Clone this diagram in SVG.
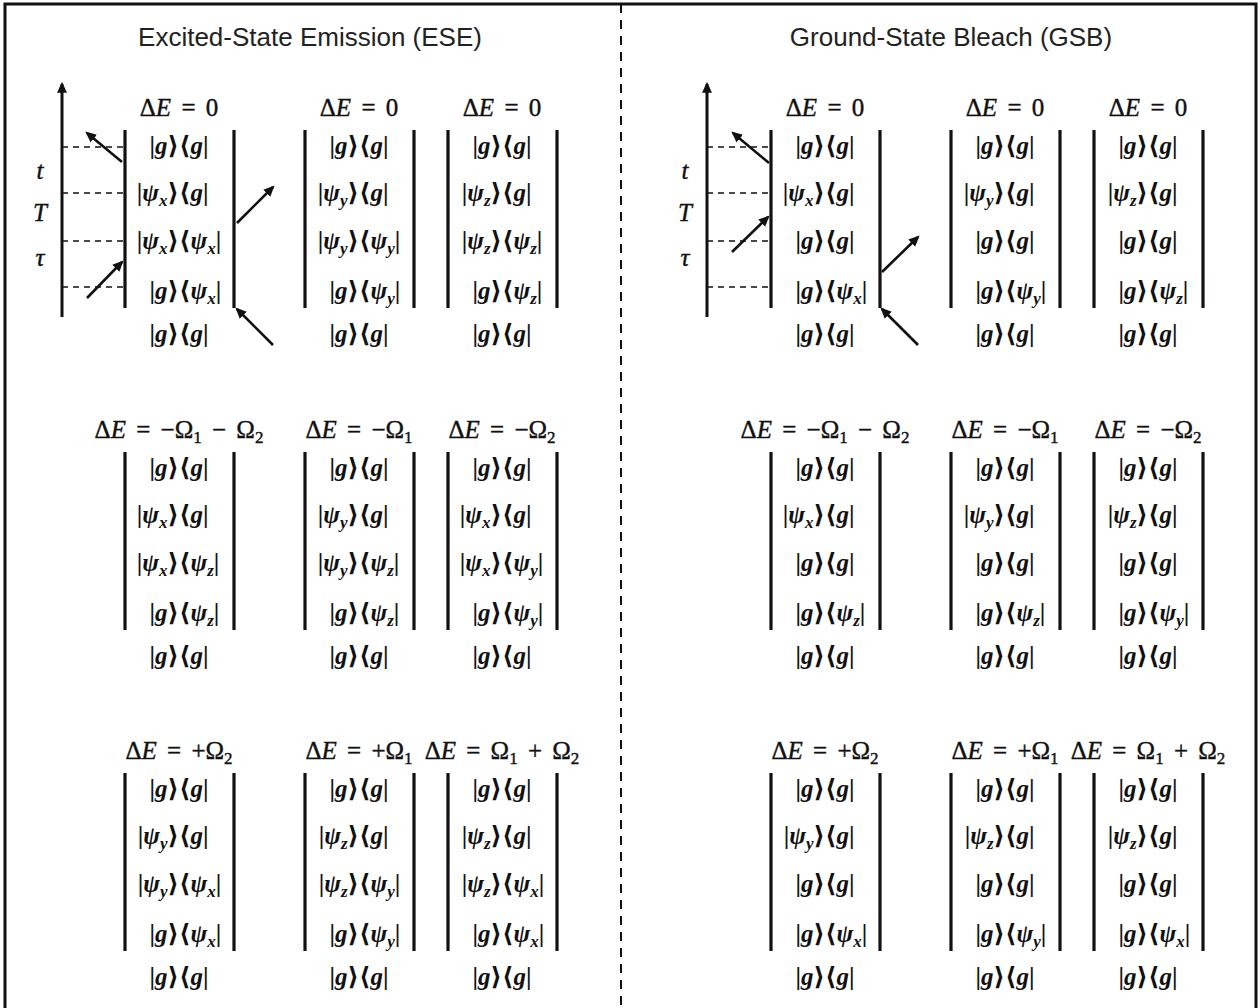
<svg xmlns="http://www.w3.org/2000/svg" width="1260" height="1008" viewBox="0 0 1260 1008">
<style>
.m{font-family:"Liberation Serif","DejaVu Serif","DejaVu Sans",serif;font-size:25px;fill:#111;font-weight:bold}
.hd{font-weight:normal;word-spacing:4px;stroke:#111;stroke-width:0.4}
.tl{font-weight:normal;stroke:#111;stroke-width:0.4}
.k{text-anchor:end}
.h{text-anchor:middle}
.i{font-style:italic}
.s{font-size:17px;font-style:italic}
.u{font-size:17px}
.ttl{font-family:"Liberation Sans",Arial,sans-serif;font-size:26px;fill:#222;text-anchor:middle}
.bar{stroke:#111;stroke-width:3.2;fill:none}
.ax{stroke:#111;stroke-width:3;fill:none}
.arr{stroke:#111;stroke-width:2.6;fill:none;marker-end:url(#ah)}
.dsh{stroke:#111;stroke-width:1.6;stroke-dasharray:6 5;fill:none}
</style>
<defs>
<marker id="ah" viewBox="0 0 10 10" refX="8" refY="5" markerWidth="11" markerHeight="11" markerUnits="userSpaceOnUse" orient="auto"><path d="M0,0.5 L10,5 L0,9.5 z" fill="#111"/></marker>
<g id="bars"><line class="bar" x1="-54" y1="0" x2="-54" y2="178"/><line class="bar" x1="55" y1="0" x2="55" y2="178"/></g>
</defs>
<rect width="1260" height="1008" fill="#fff"/>
<rect x="5" y="4" width="1251" height="1010" fill="none" stroke="#111" stroke-width="3"/>
<line x1="621" y1="4" x2="621" y2="1008" stroke="#111" stroke-width="2" stroke-dasharray="9 7"/>
<text class="ttl" x="310" y="46">Excited-State Emission (ESE)</text>
<text class="ttl" x="951" y="46">Ground-State Bleach (GSB)</text>

<g id="connectors">
<line class="ax" x1="62" y1="317" x2="62" y2="84" marker-end="url(#ah)"/>
<line class="ax" x1="707" y1="317" x2="707" y2="84" marker-end="url(#ah)"/>
<line class="dsh" x1="62" y1="147" x2="125" y2="147"/>
<line class="dsh" x1="62" y1="193" x2="125" y2="193"/>
<line class="dsh" x1="62" y1="241" x2="125" y2="241"/>
<line class="dsh" x1="62" y1="287" x2="125" y2="287"/>
<line class="dsh" x1="707" y1="147" x2="771" y2="147"/>
<line class="dsh" x1="707" y1="193" x2="771" y2="193"/>
<line class="dsh" x1="707" y1="241" x2="771" y2="241"/>
<line class="dsh" x1="707" y1="287" x2="771" y2="287"/>
<line class="arr" x1="122" y1="162" x2="87" y2="133"/>
<line class="arr" x1="87" y1="298" x2="122" y2="262"/>
<line class="arr" x1="237" y1="223" x2="273" y2="187"/>
<line class="arr" x1="273" y1="345" x2="237" y2="309"/>
<line class="arr" x1="769" y1="163" x2="733" y2="133"/>
<line class="arr" x1="732" y1="252" x2="768" y2="217"/>
<line class="arr" x1="882" y1="272" x2="918" y2="237"/>
<line class="arr" x1="918" y1="345" x2="882" y2="309"/>
</g>

<g id="time-labels">
<text class="m tl i h" x="40" y="179">t</text>
<text class="m tl i h" x="40" y="221">T</text>
<text class="m tl i h" x="40" y="266">τ</text>
<text class="m tl i h" x="685" y="179">t</text>
<text class="m tl i h" x="685" y="221">T</text>
<text class="m tl i h" x="685" y="266">τ</text>
</g>

<g id="ese-1" transform="translate(179,130)">
<use href="#bars"/>
<text class="m hd h" y="-14">Δ<tspan class="i">E</tspan> = 0</text>
<text class="m k" y="24">|<tspan class="i">g</tspan>⟩</text><text class="m" y="24">⟨<tspan class="i">g</tspan>|</text>
<text class="m k" y="71">|<tspan class="i">ψ</tspan><tspan class="s" dy="5">x</tspan><tspan dy="-5">⟩</tspan></text><text class="m" y="71">⟨<tspan class="i">g</tspan>|</text>
<text class="m k" y="119">|<tspan class="i">ψ</tspan><tspan class="s" dy="5">x</tspan><tspan dy="-5">⟩</tspan></text><text class="m" y="119">⟨<tspan class="i">ψ</tspan><tspan class="s" dy="5">x</tspan><tspan dy="-5">|</tspan></text>
<text class="m k" y="169">|<tspan class="i">g</tspan>⟩</text><text class="m" y="169">⟨<tspan class="i">ψ</tspan><tspan class="s" dy="5">x</tspan><tspan dy="-5">|</tspan></text>
<text class="m k" y="212">|<tspan class="i">g</tspan>⟩</text><text class="m" y="212">⟨<tspan class="i">g</tspan>|</text>
</g>
<g id="ese-2" transform="translate(359,130)">
<use href="#bars"/>
<text class="m hd h" y="-14">Δ<tspan class="i">E</tspan> = 0</text>
<text class="m k" y="24">|<tspan class="i">g</tspan>⟩</text><text class="m" y="24">⟨<tspan class="i">g</tspan>|</text>
<text class="m k" y="71">|<tspan class="i">ψ</tspan><tspan class="s" dy="5">y</tspan><tspan dy="-5">⟩</tspan></text><text class="m" y="71">⟨<tspan class="i">g</tspan>|</text>
<text class="m k" y="119">|<tspan class="i">ψ</tspan><tspan class="s" dy="5">y</tspan><tspan dy="-5">⟩</tspan></text><text class="m" y="119">⟨<tspan class="i">ψ</tspan><tspan class="s" dy="5">y</tspan><tspan dy="-5">|</tspan></text>
<text class="m k" y="169">|<tspan class="i">g</tspan>⟩</text><text class="m" y="169">⟨<tspan class="i">ψ</tspan><tspan class="s" dy="5">y</tspan><tspan dy="-5">|</tspan></text>
<text class="m k" y="212">|<tspan class="i">g</tspan>⟩</text><text class="m" y="212">⟨<tspan class="i">g</tspan>|</text>
</g>
<g id="ese-3" transform="translate(502,130)">
<use href="#bars"/>
<text class="m hd h" y="-14">Δ<tspan class="i">E</tspan> = 0</text>
<text class="m k" y="24">|<tspan class="i">g</tspan>⟩</text><text class="m" y="24">⟨<tspan class="i">g</tspan>|</text>
<text class="m k" y="71">|<tspan class="i">ψ</tspan><tspan class="s" dy="5">z</tspan><tspan dy="-5">⟩</tspan></text><text class="m" y="71">⟨<tspan class="i">g</tspan>|</text>
<text class="m k" y="119">|<tspan class="i">ψ</tspan><tspan class="s" dy="5">z</tspan><tspan dy="-5">⟩</tspan></text><text class="m" y="119">⟨<tspan class="i">ψ</tspan><tspan class="s" dy="5">z</tspan><tspan dy="-5">|</tspan></text>
<text class="m k" y="169">|<tspan class="i">g</tspan>⟩</text><text class="m" y="169">⟨<tspan class="i">ψ</tspan><tspan class="s" dy="5">z</tspan><tspan dy="-5">|</tspan></text>
<text class="m k" y="212">|<tspan class="i">g</tspan>⟩</text><text class="m" y="212">⟨<tspan class="i">g</tspan>|</text>
</g>
<g id="ese-4" transform="translate(179,452)">
<use href="#bars"/>
<text class="m hd h" y="-14">Δ<tspan class="i">E</tspan> = −Ω<tspan class="u" dy="5">1</tspan><tspan dy="-5"> − Ω</tspan><tspan class="u" dy="5">2</tspan></text>
<text class="m k" y="24">|<tspan class="i">g</tspan>⟩</text><text class="m" y="24">⟨<tspan class="i">g</tspan>|</text>
<text class="m k" y="71">|<tspan class="i">ψ</tspan><tspan class="s" dy="5">x</tspan><tspan dy="-5">⟩</tspan></text><text class="m" y="71">⟨<tspan class="i">g</tspan>|</text>
<text class="m k" y="119">|<tspan class="i">ψ</tspan><tspan class="s" dy="5">x</tspan><tspan dy="-5">⟩</tspan></text><text class="m" y="119">⟨<tspan class="i">ψ</tspan><tspan class="s" dy="5">z</tspan><tspan dy="-5">|</tspan></text>
<text class="m k" y="169">|<tspan class="i">g</tspan>⟩</text><text class="m" y="169">⟨<tspan class="i">ψ</tspan><tspan class="s" dy="5">z</tspan><tspan dy="-5">|</tspan></text>
<text class="m k" y="212">|<tspan class="i">g</tspan>⟩</text><text class="m" y="212">⟨<tspan class="i">g</tspan>|</text>
</g>
<g id="ese-5" transform="translate(359,452)">
<use href="#bars"/>
<text class="m hd h" y="-14">Δ<tspan class="i">E</tspan> = −Ω<tspan class="u" dy="5">1</tspan></text>
<text class="m k" y="24">|<tspan class="i">g</tspan>⟩</text><text class="m" y="24">⟨<tspan class="i">g</tspan>|</text>
<text class="m k" y="71">|<tspan class="i">ψ</tspan><tspan class="s" dy="5">y</tspan><tspan dy="-5">⟩</tspan></text><text class="m" y="71">⟨<tspan class="i">g</tspan>|</text>
<text class="m k" y="119">|<tspan class="i">ψ</tspan><tspan class="s" dy="5">y</tspan><tspan dy="-5">⟩</tspan></text><text class="m" y="119">⟨<tspan class="i">ψ</tspan><tspan class="s" dy="5">z</tspan><tspan dy="-5">|</tspan></text>
<text class="m k" y="169">|<tspan class="i">g</tspan>⟩</text><text class="m" y="169">⟨<tspan class="i">ψ</tspan><tspan class="s" dy="5">z</tspan><tspan dy="-5">|</tspan></text>
<text class="m k" y="212">|<tspan class="i">g</tspan>⟩</text><text class="m" y="212">⟨<tspan class="i">g</tspan>|</text>
</g>
<g id="ese-6" transform="translate(502,452)">
<use href="#bars"/>
<text class="m hd h" y="-14">Δ<tspan class="i">E</tspan> = −Ω<tspan class="u" dy="5">2</tspan></text>
<text class="m k" y="24">|<tspan class="i">g</tspan>⟩</text><text class="m" y="24">⟨<tspan class="i">g</tspan>|</text>
<text class="m k" y="71">|<tspan class="i">ψ</tspan><tspan class="s" dy="5">x</tspan><tspan dy="-5">⟩</tspan></text><text class="m" y="71">⟨<tspan class="i">g</tspan>|</text>
<text class="m k" y="119">|<tspan class="i">ψ</tspan><tspan class="s" dy="5">x</tspan><tspan dy="-5">⟩</tspan></text><text class="m" y="119">⟨<tspan class="i">ψ</tspan><tspan class="s" dy="5">y</tspan><tspan dy="-5">|</tspan></text>
<text class="m k" y="169">|<tspan class="i">g</tspan>⟩</text><text class="m" y="169">⟨<tspan class="i">ψ</tspan><tspan class="s" dy="5">y</tspan><tspan dy="-5">|</tspan></text>
<text class="m k" y="212">|<tspan class="i">g</tspan>⟩</text><text class="m" y="212">⟨<tspan class="i">g</tspan>|</text>
</g>
<g id="ese-7" transform="translate(179,773)">
<use href="#bars"/>
<text class="m hd h" y="-14">Δ<tspan class="i">E</tspan> = +Ω<tspan class="u" dy="5">2</tspan></text>
<text class="m k" y="24">|<tspan class="i">g</tspan>⟩</text><text class="m" y="24">⟨<tspan class="i">g</tspan>|</text>
<text class="m k" y="71">|<tspan class="i">ψ</tspan><tspan class="s" dy="5">y</tspan><tspan dy="-5">⟩</tspan></text><text class="m" y="71">⟨<tspan class="i">g</tspan>|</text>
<text class="m k" y="119">|<tspan class="i">ψ</tspan><tspan class="s" dy="5">y</tspan><tspan dy="-5">⟩</tspan></text><text class="m" y="119">⟨<tspan class="i">ψ</tspan><tspan class="s" dy="5">x</tspan><tspan dy="-5">|</tspan></text>
<text class="m k" y="169">|<tspan class="i">g</tspan>⟩</text><text class="m" y="169">⟨<tspan class="i">ψ</tspan><tspan class="s" dy="5">x</tspan><tspan dy="-5">|</tspan></text>
<text class="m k" y="212">|<tspan class="i">g</tspan>⟩</text><text class="m" y="212">⟨<tspan class="i">g</tspan>|</text>
</g>
<g id="ese-8" transform="translate(359,773)">
<use href="#bars"/>
<text class="m hd h" y="-14">Δ<tspan class="i">E</tspan> = +Ω<tspan class="u" dy="5">1</tspan></text>
<text class="m k" y="24">|<tspan class="i">g</tspan>⟩</text><text class="m" y="24">⟨<tspan class="i">g</tspan>|</text>
<text class="m k" y="71">|<tspan class="i">ψ</tspan><tspan class="s" dy="5">z</tspan><tspan dy="-5">⟩</tspan></text><text class="m" y="71">⟨<tspan class="i">g</tspan>|</text>
<text class="m k" y="119">|<tspan class="i">ψ</tspan><tspan class="s" dy="5">z</tspan><tspan dy="-5">⟩</tspan></text><text class="m" y="119">⟨<tspan class="i">ψ</tspan><tspan class="s" dy="5">y</tspan><tspan dy="-5">|</tspan></text>
<text class="m k" y="169">|<tspan class="i">g</tspan>⟩</text><text class="m" y="169">⟨<tspan class="i">ψ</tspan><tspan class="s" dy="5">y</tspan><tspan dy="-5">|</tspan></text>
<text class="m k" y="212">|<tspan class="i">g</tspan>⟩</text><text class="m" y="212">⟨<tspan class="i">g</tspan>|</text>
</g>
<g id="ese-9" transform="translate(502,773)">
<use href="#bars"/>
<text class="m hd h" y="-14">Δ<tspan class="i">E</tspan> = Ω<tspan class="u" dy="5">1</tspan><tspan dy="-5"> + Ω</tspan><tspan class="u" dy="5">2</tspan></text>
<text class="m k" y="24">|<tspan class="i">g</tspan>⟩</text><text class="m" y="24">⟨<tspan class="i">g</tspan>|</text>
<text class="m k" y="71">|<tspan class="i">ψ</tspan><tspan class="s" dy="5">z</tspan><tspan dy="-5">⟩</tspan></text><text class="m" y="71">⟨<tspan class="i">g</tspan>|</text>
<text class="m k" y="119">|<tspan class="i">ψ</tspan><tspan class="s" dy="5">z</tspan><tspan dy="-5">⟩</tspan></text><text class="m" y="119">⟨<tspan class="i">ψ</tspan><tspan class="s" dy="5">x</tspan><tspan dy="-5">|</tspan></text>
<text class="m k" y="169">|<tspan class="i">g</tspan>⟩</text><text class="m" y="169">⟨<tspan class="i">ψ</tspan><tspan class="s" dy="5">x</tspan><tspan dy="-5">|</tspan></text>
<text class="m k" y="212">|<tspan class="i">g</tspan>⟩</text><text class="m" y="212">⟨<tspan class="i">g</tspan>|</text>
</g>

<g id="gsb-1" transform="translate(825,130)">
<use href="#bars"/>
<text class="m hd h" y="-14">Δ<tspan class="i">E</tspan> = 0</text>
<text class="m k" y="24">|<tspan class="i">g</tspan>⟩</text><text class="m" y="24">⟨<tspan class="i">g</tspan>|</text>
<text class="m k" y="71">|<tspan class="i">ψ</tspan><tspan class="s" dy="5">x</tspan><tspan dy="-5">⟩</tspan></text><text class="m" y="71">⟨<tspan class="i">g</tspan>|</text>
<text class="m k" y="119">|<tspan class="i">g</tspan>⟩</text><text class="m" y="119">⟨<tspan class="i">g</tspan>|</text>
<text class="m k" y="169">|<tspan class="i">g</tspan>⟩</text><text class="m" y="169">⟨<tspan class="i">ψ</tspan><tspan class="s" dy="5">x</tspan><tspan dy="-5">|</tspan></text>
<text class="m k" y="212">|<tspan class="i">g</tspan>⟩</text><text class="m" y="212">⟨<tspan class="i">g</tspan>|</text>
</g>
<g id="gsb-2" transform="translate(1005,130)">
<use href="#bars"/>
<text class="m hd h" y="-14">Δ<tspan class="i">E</tspan> = 0</text>
<text class="m k" y="24">|<tspan class="i">g</tspan>⟩</text><text class="m" y="24">⟨<tspan class="i">g</tspan>|</text>
<text class="m k" y="71">|<tspan class="i">ψ</tspan><tspan class="s" dy="5">y</tspan><tspan dy="-5">⟩</tspan></text><text class="m" y="71">⟨<tspan class="i">g</tspan>|</text>
<text class="m k" y="119">|<tspan class="i">g</tspan>⟩</text><text class="m" y="119">⟨<tspan class="i">g</tspan>|</text>
<text class="m k" y="169">|<tspan class="i">g</tspan>⟩</text><text class="m" y="169">⟨<tspan class="i">ψ</tspan><tspan class="s" dy="5">y</tspan><tspan dy="-5">|</tspan></text>
<text class="m k" y="212">|<tspan class="i">g</tspan>⟩</text><text class="m" y="212">⟨<tspan class="i">g</tspan>|</text>
</g>
<g id="gsb-3" transform="translate(1148,130)">
<use href="#bars"/>
<text class="m hd h" y="-14">Δ<tspan class="i">E</tspan> = 0</text>
<text class="m k" y="24">|<tspan class="i">g</tspan>⟩</text><text class="m" y="24">⟨<tspan class="i">g</tspan>|</text>
<text class="m k" y="71">|<tspan class="i">ψ</tspan><tspan class="s" dy="5">z</tspan><tspan dy="-5">⟩</tspan></text><text class="m" y="71">⟨<tspan class="i">g</tspan>|</text>
<text class="m k" y="119">|<tspan class="i">g</tspan>⟩</text><text class="m" y="119">⟨<tspan class="i">g</tspan>|</text>
<text class="m k" y="169">|<tspan class="i">g</tspan>⟩</text><text class="m" y="169">⟨<tspan class="i">ψ</tspan><tspan class="s" dy="5">z</tspan><tspan dy="-5">|</tspan></text>
<text class="m k" y="212">|<tspan class="i">g</tspan>⟩</text><text class="m" y="212">⟨<tspan class="i">g</tspan>|</text>
</g>
<g id="gsb-4" transform="translate(825,452)">
<use href="#bars"/>
<text class="m hd h" y="-14">Δ<tspan class="i">E</tspan> = −Ω<tspan class="u" dy="5">1</tspan><tspan dy="-5"> − Ω</tspan><tspan class="u" dy="5">2</tspan></text>
<text class="m k" y="24">|<tspan class="i">g</tspan>⟩</text><text class="m" y="24">⟨<tspan class="i">g</tspan>|</text>
<text class="m k" y="71">|<tspan class="i">ψ</tspan><tspan class="s" dy="5">x</tspan><tspan dy="-5">⟩</tspan></text><text class="m" y="71">⟨<tspan class="i">g</tspan>|</text>
<text class="m k" y="119">|<tspan class="i">g</tspan>⟩</text><text class="m" y="119">⟨<tspan class="i">g</tspan>|</text>
<text class="m k" y="169">|<tspan class="i">g</tspan>⟩</text><text class="m" y="169">⟨<tspan class="i">ψ</tspan><tspan class="s" dy="5">z</tspan><tspan dy="-5">|</tspan></text>
<text class="m k" y="212">|<tspan class="i">g</tspan>⟩</text><text class="m" y="212">⟨<tspan class="i">g</tspan>|</text>
</g>
<g id="gsb-5" transform="translate(1005,452)">
<use href="#bars"/>
<text class="m hd h" y="-14">Δ<tspan class="i">E</tspan> = −Ω<tspan class="u" dy="5">1</tspan></text>
<text class="m k" y="24">|<tspan class="i">g</tspan>⟩</text><text class="m" y="24">⟨<tspan class="i">g</tspan>|</text>
<text class="m k" y="71">|<tspan class="i">ψ</tspan><tspan class="s" dy="5">y</tspan><tspan dy="-5">⟩</tspan></text><text class="m" y="71">⟨<tspan class="i">g</tspan>|</text>
<text class="m k" y="119">|<tspan class="i">g</tspan>⟩</text><text class="m" y="119">⟨<tspan class="i">g</tspan>|</text>
<text class="m k" y="169">|<tspan class="i">g</tspan>⟩</text><text class="m" y="169">⟨<tspan class="i">ψ</tspan><tspan class="s" dy="5">z</tspan><tspan dy="-5">|</tspan></text>
<text class="m k" y="212">|<tspan class="i">g</tspan>⟩</text><text class="m" y="212">⟨<tspan class="i">g</tspan>|</text>
</g>
<g id="gsb-6" transform="translate(1148,452)">
<use href="#bars"/>
<text class="m hd h" y="-14">Δ<tspan class="i">E</tspan> = −Ω<tspan class="u" dy="5">2</tspan></text>
<text class="m k" y="24">|<tspan class="i">g</tspan>⟩</text><text class="m" y="24">⟨<tspan class="i">g</tspan>|</text>
<text class="m k" y="71">|<tspan class="i">ψ</tspan><tspan class="s" dy="5">z</tspan><tspan dy="-5">⟩</tspan></text><text class="m" y="71">⟨<tspan class="i">g</tspan>|</text>
<text class="m k" y="119">|<tspan class="i">g</tspan>⟩</text><text class="m" y="119">⟨<tspan class="i">g</tspan>|</text>
<text class="m k" y="169">|<tspan class="i">g</tspan>⟩</text><text class="m" y="169">⟨<tspan class="i">ψ</tspan><tspan class="s" dy="5">y</tspan><tspan dy="-5">|</tspan></text>
<text class="m k" y="212">|<tspan class="i">g</tspan>⟩</text><text class="m" y="212">⟨<tspan class="i">g</tspan>|</text>
</g>
<g id="gsb-7" transform="translate(825,773)">
<use href="#bars"/>
<text class="m hd h" y="-14">Δ<tspan class="i">E</tspan> = +Ω<tspan class="u" dy="5">2</tspan></text>
<text class="m k" y="24">|<tspan class="i">g</tspan>⟩</text><text class="m" y="24">⟨<tspan class="i">g</tspan>|</text>
<text class="m k" y="71">|<tspan class="i">ψ</tspan><tspan class="s" dy="5">y</tspan><tspan dy="-5">⟩</tspan></text><text class="m" y="71">⟨<tspan class="i">g</tspan>|</text>
<text class="m k" y="119">|<tspan class="i">g</tspan>⟩</text><text class="m" y="119">⟨<tspan class="i">g</tspan>|</text>
<text class="m k" y="169">|<tspan class="i">g</tspan>⟩</text><text class="m" y="169">⟨<tspan class="i">ψ</tspan><tspan class="s" dy="5">x</tspan><tspan dy="-5">|</tspan></text>
<text class="m k" y="212">|<tspan class="i">g</tspan>⟩</text><text class="m" y="212">⟨<tspan class="i">g</tspan>|</text>
</g>
<g id="gsb-8" transform="translate(1005,773)">
<use href="#bars"/>
<text class="m hd h" y="-14">Δ<tspan class="i">E</tspan> = +Ω<tspan class="u" dy="5">1</tspan></text>
<text class="m k" y="24">|<tspan class="i">g</tspan>⟩</text><text class="m" y="24">⟨<tspan class="i">g</tspan>|</text>
<text class="m k" y="71">|<tspan class="i">ψ</tspan><tspan class="s" dy="5">z</tspan><tspan dy="-5">⟩</tspan></text><text class="m" y="71">⟨<tspan class="i">g</tspan>|</text>
<text class="m k" y="119">|<tspan class="i">g</tspan>⟩</text><text class="m" y="119">⟨<tspan class="i">g</tspan>|</text>
<text class="m k" y="169">|<tspan class="i">g</tspan>⟩</text><text class="m" y="169">⟨<tspan class="i">ψ</tspan><tspan class="s" dy="5">y</tspan><tspan dy="-5">|</tspan></text>
<text class="m k" y="212">|<tspan class="i">g</tspan>⟩</text><text class="m" y="212">⟨<tspan class="i">g</tspan>|</text>
</g>
<g id="gsb-9" transform="translate(1148,773)">
<use href="#bars"/>
<text class="m hd h" y="-14">Δ<tspan class="i">E</tspan> = Ω<tspan class="u" dy="5">1</tspan><tspan dy="-5"> + Ω</tspan><tspan class="u" dy="5">2</tspan></text>
<text class="m k" y="24">|<tspan class="i">g</tspan>⟩</text><text class="m" y="24">⟨<tspan class="i">g</tspan>|</text>
<text class="m k" y="71">|<tspan class="i">ψ</tspan><tspan class="s" dy="5">z</tspan><tspan dy="-5">⟩</tspan></text><text class="m" y="71">⟨<tspan class="i">g</tspan>|</text>
<text class="m k" y="119">|<tspan class="i">g</tspan>⟩</text><text class="m" y="119">⟨<tspan class="i">g</tspan>|</text>
<text class="m k" y="169">|<tspan class="i">g</tspan>⟩</text><text class="m" y="169">⟨<tspan class="i">ψ</tspan><tspan class="s" dy="5">x</tspan><tspan dy="-5">|</tspan></text>
<text class="m k" y="212">|<tspan class="i">g</tspan>⟩</text><text class="m" y="212">⟨<tspan class="i">g</tspan>|</text>
</g>
</svg>
